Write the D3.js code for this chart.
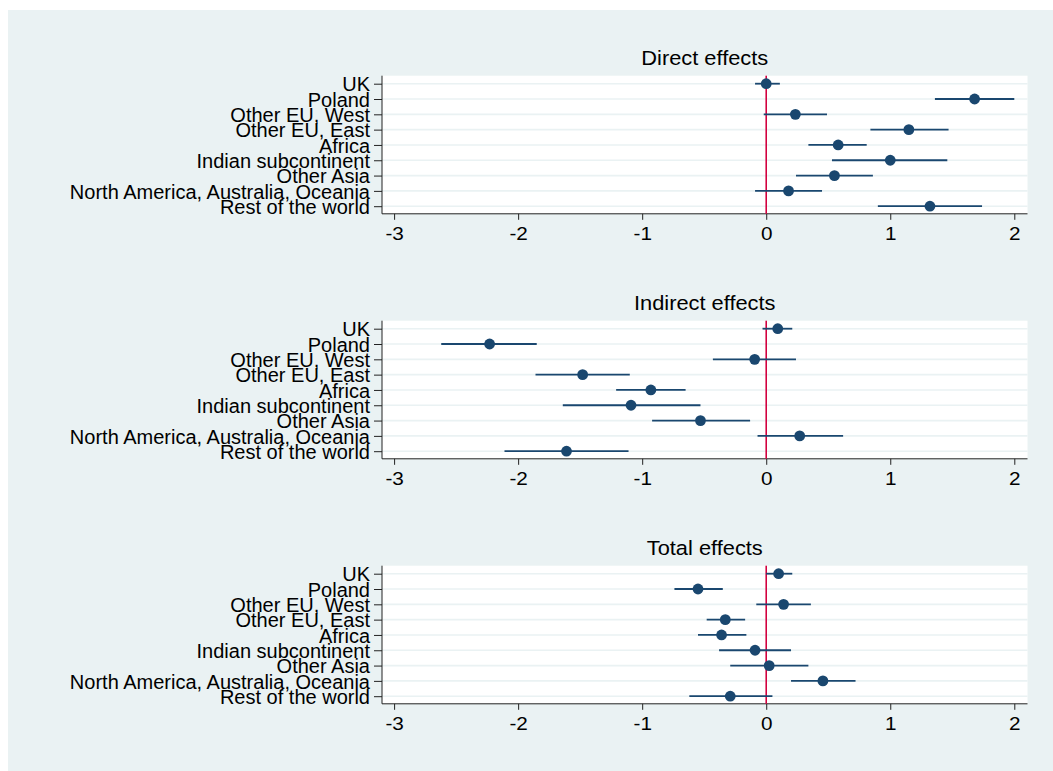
<!DOCTYPE html>
<html>
<head>
<meta charset="utf-8">
<script src="https://cdn.jsdelivr.net/npm/d3@7"></script>
<style>
  body { margin: 0; background: #ffffff; }
  svg { display: block; }
  text { font-family: "Liberation Sans", Arial, sans-serif; fill: #000; }
</style>
</head>
<body>
<svg id="chart" width="1053" height="771"></svg>
<script>
const categories = ["UK", "Poland", "Other EU, West", "Other EU, East", "Africa",
  "Indian subcontinent", "Other Asia", "North America, Australia, Oceania", "Rest of the world"];
const panelTitles = ["Direct effects", "Indirect effects", "Total effects"];
const xTicks = [-3, -2, -1, 0, 1, 2];

const directEst = [0.00, 1.68, 0.235, 1.15, 0.58, 1.00, 0.55, 0.18, 1.32];
const directLo  = [-0.09, 1.36, -0.02, 0.84, 0.34, 0.53, 0.24, -0.09, 0.90];
const directHi  = [0.11, 2.00, 0.49, 1.47, 0.81, 1.46, 0.86, 0.45, 1.74];

const indirectEst = [0.093, -2.23, -0.093, -1.48, -0.93, -1.09, -0.53, 0.27, -1.61];
const indirectLo  = [-0.03, -2.62, -0.43, -1.86, -1.21, -1.64, -0.92, -0.07, -2.11];
const indirectHi  = [0.21, -1.85, 0.24, -1.10, -0.65, -0.53, -0.13, 0.62, -1.11];

const totalEst = [0.10, -0.55, 0.14, -0.33, -0.36, -0.09, 0.024, 0.457, -0.29];
const totalLo  = [0.00, -0.74, -0.08, -0.48, -0.55, -0.38, -0.29, 0.20, -0.62];
const totalHi  = [0.21, -0.35, 0.36, -0.17, -0.16, 0.20, 0.34, 0.72, 0.05];

const panels = [
  {title: panelTitles[0], est: directEst, lo: directLo, hi: directHi},
  {title: panelTitles[1], est: indirectEst, lo: indirectLo, hi: indirectHi},
  {title: panelTitles[2], est: totalEst, lo: totalLo, hi: totalHi}
];

const svg = d3.select("#chart");
const bg = "#eaf2f3";
const navy = "#1a476f";
const red = "#d3003f";

svg.append("rect").attr("x", 8).attr("y", 10).attr("width", 1045).attr("height", 761).attr("fill", bg);

const plotLeft = 382, plotRight = 1027.5;
const x = d3.scaleLinear().domain([-3, 2]).range([394.1, 1014.3]);

panels.forEach((p, k) => {
  const top = 75.7 + 245 * k;
  const bottom = 213.8 + 245 * k;
  const y = d3.scalePoint().domain(categories).range([top + 8, bottom - 7.6]);
  const g = svg.append("g");

  g.append("rect").attr("x", plotLeft).attr("y", top)
    .attr("width", plotRight - plotLeft).attr("height", bottom - top).attr("fill", "#fff");

  g.selectAll("line.grid").data(categories).enter().append("line")
    .attr("class", "grid")
    .attr("x1", plotLeft).attr("x2", plotRight)
    .attr("y1", d => y(d)).attr("y2", d => y(d))
    .attr("stroke", bg).attr("stroke-width", 1.6);

  // title
  g.append("text")
    .attr("transform", `translate(${(plotLeft + plotRight) / 2},${top - 10.5}) scale(1.12,1)`)
    .attr("text-anchor", "middle").style("font-size", "19.5px").text(p.title);

  // x axis
  const xa = g.append("g").attr("transform", `translate(0,${bottom})`)
    .call(d3.axisBottom(x).tickValues(xTicks).tickSize(6).tickPadding(7)
      .tickFormat(d => d3.format("d")(d).replace("−", "-")));
  xa.select(".domain").attr("d", `M${plotLeft},0H${plotRight}`).attr("stroke", "#222");
  xa.selectAll(".tick line").attr("stroke", "#222");
  xa.selectAll(".tick text").style("font-size", "18.5px").style("font-family", "Liberation Sans, Arial, sans-serif")
    .attr("fill", "#000").attr("transform", "scale(1.12,1)");

  // y axis
  const ya = g.append("g").attr("transform", `translate(${plotLeft},0)`)
    .call(d3.axisLeft(y).tickSize(8).tickPadding(4));
  ya.select(".domain").attr("d", `M0,${top}V${bottom}`).attr("stroke", "#222");
  ya.selectAll(".tick line").attr("stroke", "#222");
  ya.selectAll(".tick text").style("font-size", "20px").style("font-family", "Liberation Sans, Arial, sans-serif")
    .attr("fill", "#000").attr("dy", "0.36em");

  // zero line
  g.append("line").attr("x1", x(0)).attr("x2", x(0)).attr("y1", top).attr("y2", bottom)
    .attr("stroke", red).attr("stroke-width", 1.6);

  // CIs
  g.selectAll("line.ci").data(categories).enter().append("line")
    .attr("class", "ci")
    .attr("x1", (d, i) => x(p.lo[i])).attr("x2", (d, i) => x(p.hi[i]))
    .attr("y1", d => y(d)).attr("y2", d => y(d))
    .attr("stroke", navy).attr("stroke-width", 1.8);

  g.selectAll("circle.pt").data(categories).enter().append("circle")
    .attr("class", "pt")
    .attr("cx", (d, i) => x(p.est[i])).attr("cy", d => y(d)).attr("r", 5.4)
    .attr("fill", navy);
});
</script>
</body>
</html>
